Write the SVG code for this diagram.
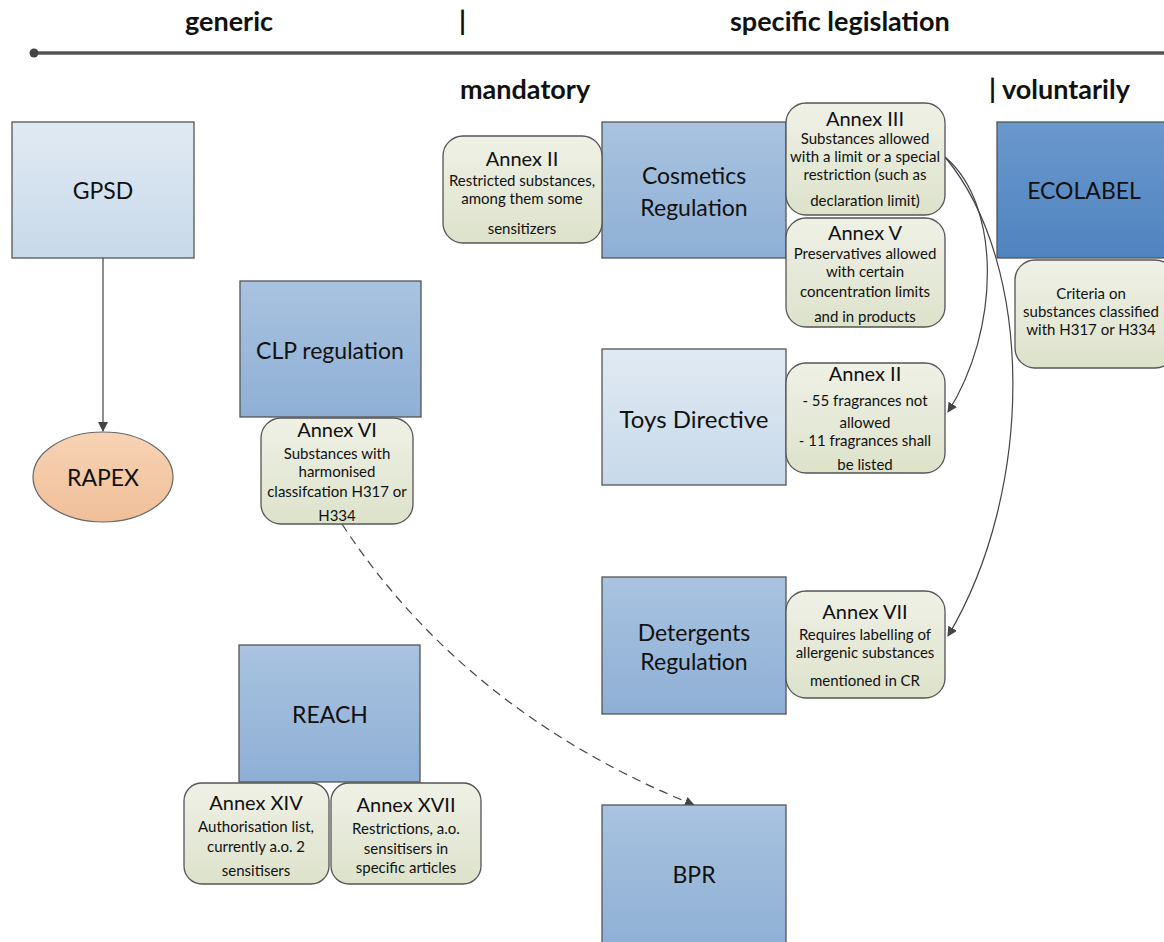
<svg xmlns="http://www.w3.org/2000/svg" width="1164" height="942" viewBox="0 0 1164 942">
<defs>
<linearGradient id="gMed" x1="0" y1="0" x2="0" y2="1"><stop offset="0" stop-color="#a9c3e0"/><stop offset="1" stop-color="#8eafd5"/></linearGradient>
<linearGradient id="gLight" x1="0" y1="0" x2="0" y2="1"><stop offset="0" stop-color="#e1eaf3"/><stop offset="1" stop-color="#c7d9ea"/></linearGradient>
<linearGradient id="gDark" x1="0" y1="0" x2="0" y2="1"><stop offset="0" stop-color="#6b98cd"/><stop offset="1" stop-color="#4f83c0"/></linearGradient>
<linearGradient id="gAnnex" x1="0" y1="0" x2="0" y2="1"><stop offset="0" stop-color="#eff1e6"/><stop offset="1" stop-color="#dde2cb"/></linearGradient>
<linearGradient id="gPeach" x1="0" y1="0" x2="0" y2="1"><stop offset="0" stop-color="#f7d3b5"/><stop offset="1" stop-color="#f0bf98"/></linearGradient>
<marker id="arr" viewBox="0 0 10 10" refX="9" refY="5" markerWidth="10" markerHeight="10" markerUnits="userSpaceOnUse" orient="auto"><path d="M0,0 L10,5 L0,10 z" fill="#444"/></marker>
</defs>
<style>
text{font-family:Lato,"Open Sans","Liberation Sans",sans-serif;fill:#111;text-anchor:middle;dominant-baseline:central}
.hdr{font-weight:bold;font-size:27px;text-anchor:start}
.box{stroke:#555;stroke-width:1.3}
.med{fill:url(#gMed)}
.light{fill:url(#gLight)}
.dark{fill:url(#gDark)}
.annex{fill:url(#gAnnex);stroke:#555;stroke-width:1.3}
.t{font-size:23px}
.at{font-size:20px}
.ab{font-size:15px}
.con{fill:none;stroke:#444;stroke-width:1.2}
</style>
<rect width="1164" height="942" fill="#fff"/>
<g id="header">
<text class="hdr" x="185" y="20">generic</text>
<text class="hdr" x="459" y="20">|</text>
<text class="hdr" x="730" y="20">specific legislation</text>
<line x1="34" y1="53" x2="1164" y2="53" stroke="#555" stroke-width="3.5"/>
<circle cx="34" cy="53" r="4.5" fill="#444"/>
<text class="hdr" x="460" y="88">mandatory</text>
<text class="hdr" x="989" y="88">| voluntarily</text>
</g>
<g id="connectors">
<line class="con" x1="103" y1="258" x2="103" y2="431" stroke="#666" marker-end="url(#arr)"/>
<path class="con" d="M342,524 Q465,712 694,805" stroke-dasharray="9,6" marker-end="url(#arr)"/>
<path class="con" d="M945,157 C1002,205 1000,330 948,412" marker-end="url(#arr)"/>
<path class="con" d="M945,157 C1035,265 1035,490 948,636" marker-end="url(#arr)"/>
</g>
<g id="gpsd"><rect class="box light" x="12" y="122" width="182" height="136"/><text class="t" x="103" y="190">GPSD</text></g>
<g id="rapex"><ellipse cx="103" cy="477" rx="70" ry="45" fill="url(#gPeach)" stroke="#666" stroke-width="1.2"/><text class="t" x="103" y="477">RAPEX</text></g>
<g id="clp"><rect class="box med" x="240" y="281" width="181" height="136"/><text class="t" x="330" y="350">CLP regulation</text></g>
<g id="annex6"><rect class="annex" x="261" y="418" width="152" height="106" rx="20"/>
<text class="at" x="337" y="429">Annex VI</text><text class="ab" x="337" y="453">Substances with</text><text class="ab" x="337" y="471">harmonised</text><text class="ab" x="337" y="491">classifcation H317 or</text><text class="ab" x="337" y="515">H334</text></g>
<g id="reach"><rect class="box med" x="239" y="645" width="181" height="137"/><text class="t" x="330" y="714">REACH</text></g>
<g id="annex14"><rect class="annex" x="184" y="783" width="145" height="101" rx="18"/>
<text class="at" x="256" y="802">Annex XIV</text><text class="ab" x="256" y="826">Authorisation list,</text><text class="ab" x="256" y="846">currently a.o. 2</text><text class="ab" x="256" y="870">sensitisers</text></g>
<g id="annex17"><rect class="annex" x="331" y="783" width="150" height="101" rx="18"/>
<text class="at" x="406" y="804">Annex XVII</text><text class="ab" x="406" y="828">Restrictions, a.o.</text><text class="ab" x="406" y="848">sensitisers in</text><text class="ab" x="406" y="867">specific articles</text></g>
<g id="cosmetics"><rect class="box med" x="602" y="122" width="184" height="136"/><text class="t" x="694" y="175">Cosmetics</text><text class="t" x="694" y="207">Regulation</text></g>
<g id="annex2c"><rect class="annex" x="443" y="136" width="159" height="107" rx="20"/>
<text class="at" x="522" y="158">Annex II</text><text class="ab" x="522" y="180">Restricted substances,</text><text class="ab" x="522" y="198">among them some</text><text class="ab" x="522" y="228">sensitizers</text></g>
<g id="annex3"><rect class="annex" x="786" y="103" width="159" height="112" rx="20"/>
<text class="at" x="865" y="118">Annex III</text><text class="ab" x="865" y="138">Substances allowed</text><text class="ab" x="865" y="156">with a limit or a special</text><text class="ab" x="865" y="174">restriction (such as</text><text class="ab" x="865" y="200">declaration limit)</text></g>
<g id="annex5"><rect class="annex" x="786" y="218" width="159" height="109" rx="20"/>
<text class="at" x="865" y="232">Annex V</text><text class="ab" x="865" y="253">Preservatives allowed</text><text class="ab" x="865" y="271">with certain</text><text class="ab" x="865" y="291">concentration limits</text><text class="ab" x="865" y="316">and in products</text></g>
<g id="ecolabel"><rect class="box dark" x="997" y="122" width="170" height="136"/><text class="t" x="1084" y="190">ECOLABEL</text></g>
<g id="criteria"><rect class="annex" x="1015" y="260" width="160" height="108" rx="20"/>
<text class="ab" x="1091" y="293">Criteria on</text><text class="ab" x="1091" y="311">substances classified</text><text class="ab" x="1091" y="329">with H317 or H334</text></g>
<g id="toys"><rect class="box light" x="602" y="349" width="184" height="136"/><text class="t" x="694" y="418" style="font-size:24px">Toys Directive</text></g>
<g id="annex2t"><rect class="annex" x="786" y="363" width="159" height="110" rx="20"/>
<text class="at" x="865" y="373">Annex II</text><text class="ab" x="865" y="400">- 55 fragrances not</text><text class="ab" x="865" y="422">allowed</text><text class="ab" x="865" y="440">- 11 fragrances shall</text><text class="ab" x="865" y="464">be listed</text></g>
<g id="detergents"><rect class="box med" x="602" y="577" width="184" height="137"/><text class="t" x="694" y="632">Detergents</text><text class="t" x="694" y="661">Regulation</text></g>
<g id="annex7"><rect class="annex" x="786" y="591" width="159" height="107" rx="20"/>
<text class="at" x="865" y="611">Annex VII</text><text class="ab" x="865" y="634">Requires labelling of</text><text class="ab" x="865" y="652">allergenic substances</text><text class="ab" x="865" y="680">mentioned in CR</text></g>
<g id="bpr"><rect class="box med" x="602" y="805" width="184" height="145"/><text class="t" x="694" y="874">BPR</text></g>
</svg>
